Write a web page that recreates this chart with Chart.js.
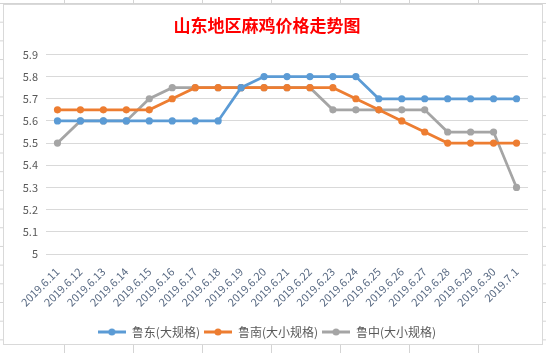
<!DOCTYPE html>
<html><head><meta charset="utf-8">
<script src="https://cdn.jsdelivr.net/npm/chart.js@4/dist/chart.umd.min.js"></script>
<style>
html,body{margin:0;padding:0;width:546px;height:353px;overflow:hidden;background:#fff;}
body{background-image:linear-gradient(to right,#d4d4d4 1px,transparent 1px),linear-gradient(to bottom,#d4d4d4 1px,transparent 1px);background-size:69px 100%,100% 18.7px;background-position:64px 0,0 3px;}
#wrap{position:absolute;left:3px;top:4px;width:540px;height:341px;background:#fff;border:1px solid #d9d9d9;box-sizing:border-box;}
canvas{display:block;}
</style></head>
<body>
<div id="wrap"><canvas id="c" width="538" height="339"></canvas></div>
<script>
const categories = ["2019.6.11","2019.6.12","2019.6.13","2019.6.14","2019.6.15","2019.6.16","2019.6.17","2019.6.18","2019.6.19","2019.6.20","2019.6.21","2019.6.22","2019.6.23","2019.6.24","2019.6.25","2019.6.26","2019.6.27","2019.6.28","2019.6.29","2019.6.30","2019.7.1"];
const luDong = [5.6,5.6,5.6,5.6,5.6,5.6,5.6,5.6,5.75,5.8,5.8,5.8,5.8,5.8,5.7,5.7,5.7,5.7,5.7,5.7,5.7];
const luNan = [5.65,5.65,5.65,5.65,5.65,5.7,5.75,5.75,5.75,5.75,5.75,5.75,5.75,5.7,5.65,5.6,5.55,5.5,5.5,5.5,5.5];
const luZhong = [5.5,5.6,5.6,5.6,5.7,5.75,5.75,5.75,5.75,5.75,5.75,5.75,5.65,5.65,5.65,5.65,5.65,5.55,5.55,5.55,5.3];
const seriesNames = ["鲁东(大规格)","鲁南(大小规格)","鲁中(大小规格)"];
const titleText = "山东地区麻鸡价格走势图";

const colors = ["#5b9bd5","#ed7d31","#a5a5a5"];
function marker(color){
  const c=document.createElement('canvas');c.width=28;c.height=10;
  const g=c.getContext('2d');
  g.strokeStyle=color;g.lineWidth=3;g.beginPath();g.moveTo(0,5);g.lineTo(28,5);g.stroke();
  g.fillStyle=color;g.beginPath();g.arc(14,5,3.5,0,Math.PI*2);g.fill();
  return c;
}
const markers = colors.map(marker);
const values=[luDong,luNan,luZhong];
const datasets = values.map((v,i)=>({
  label:seriesNames[i],data:v,borderColor:colors[i],backgroundColor:colors[i],
  borderWidth:2.75,pointRadius:3.6,pointHoverRadius:3.6,pointBorderWidth:0,tension:0
}));
const FONT="'Microsoft YaHei','Noto Sans CJK SC','DejaVu Sans',sans-serif";
new Chart(document.getElementById('c'),{
  type:'line',
  data:{labels:categories,datasets:datasets},
  options:{
    responsive:false,animation:false,
    layout:{padding:{left:2,right:14,top:0,bottom:-4}},
    plugins:{
      title:{display:true,text:titleText,color:'#ff0000',font:{family:"'Noto Sans CJK SC',serif",size:17,weight:'bold'},padding:{top:10,bottom:19}},
      legend:{position:'bottom',labels:{
        color:'#595959',font:{family:FONT,size:12},usePointStyle:true,pointStyleWidth:28,boxWidth:28,boxHeight:10,padding:4,
        generateLabels:(chart)=>{
          const l=Chart.defaults.plugins.legend.labels.generateLabels(chart);
          l.forEach((it,i)=>{it.pointStyle=markers[i];});
          return l;
        }}},
      tooltip:{enabled:false}
    },
    scales:{
      x:{offset:true,grid:{display:false},border:{display:false},
         ticks:{color:'#5a6b84',font:{family:FONT,size:11},minRotation:45,maxRotation:45,autoSkip:false,padding:3},
         afterFit:(s)=>{s.height=68;}},
      y:{min:5,max:5.9,border:{display:false},
         grid:{color:'#d9d9d9',lineWidth:1,drawTicks:false},
         ticks:{stepSize:0.1,color:'#595959',font:{family:FONT,size:11},padding:8,
           callback:(v)=>Math.round(v*10)/10+''},
         afterFit:(s)=>{s.width=40;}}
    }
  }
});
</script>
</body></html>
